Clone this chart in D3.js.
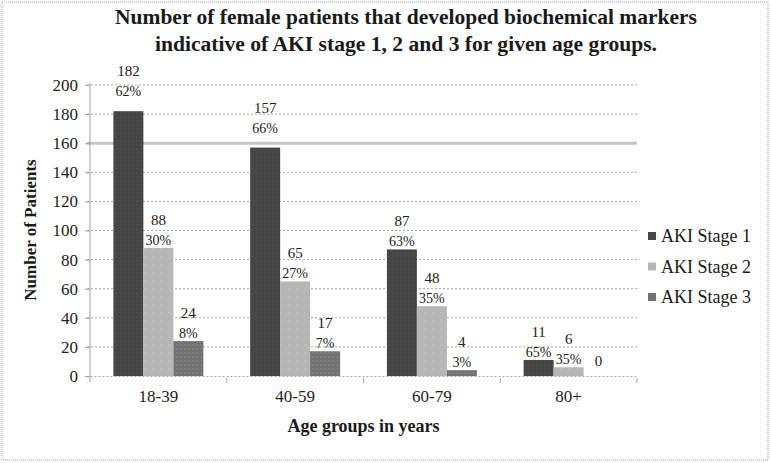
<!DOCTYPE html>
<html>
<head>
<meta charset="utf-8">
<script src="https://cdn.jsdelivr.net/npm/d3@7"></script>
<style>
body { margin: 0; background: #fff; }
svg text { font-family: "Liberation Serif", "Times New Roman", serif !important; }
</style>
</head>
<body>
<svg width="770" height="463"></svg>
<script>
var width = 770;
var height = 463;

var ageGroups = ['18-39', '40-59', '60-79', '80+'];
var stages = ['AKI Stage 1', 'AKI Stage 2', 'AKI Stage 3'];
var stage1 = [182, 157, 87, 11];
var stage2 = [88, 65, 48, 6];
var stage3 = [24, 17, 4, 0];
var pct1 = ['62%', '66%', '63%', '65%'];
var pct2 = ['30%', '27%', '35%', '35%'];
var pct3 = ['8%', '7%', '3%', ''];
var yTicks = [0, 20, 40, 60, 80, 100, 120, 140, 160, 180, 200];
var colors = ['#454545', '#b6b6b6', '#727272'];

var margin = {left: 90, right: 133, top: 85, bottom: 87}; // plot box
var svg = d3.select('svg');

// texture like the scanned fills
var defs = svg.append('defs');
colors.forEach(function(c, i) {
	var p = defs.append('pattern')
		.attr('id', 'fill' + i)
		.attr('width', i == 1 ? 8 : 4)
		.attr('height', i == 1 ? 8 : 4)
		.attr('patternUnits', 'userSpaceOnUse');
	p.append('rect').attr('width', 8).attr('height', 8).attr('fill', c);
	p.append('circle').attr('cx', 1).attr('cy', 1).attr('r', 0.8)
		.attr('fill', d3.color(c).brighter(i == 1 ? 0.25 : 0.5));
});

// outer dotted frame
svg.append('rect')
	.attr('x', 2).attr('y', 2)
	.attr('width', width - 4).attr('height', height - 5)
	.attr('fill', 'none')
	.attr('stroke', '#9a9a9a')
	.attr('stroke-dasharray', '1,1');

// title
var title = svg.append('text')
	.attr('text-anchor', 'middle')
	.style('font-weight', 'bold')
	.style('font-size', '21px')
	.attr('fill', '#1a1a1a');
title.append('tspan').attr('x', 406).attr('y', 24)
	.attr('textLength', 582).attr('lengthAdjust', 'spacingAndGlyphs')
	.text('Number of female patients that developed biochemical markers');
title.append('tspan').attr('x', 406).attr('y', 51)
	.attr('textLength', 502).attr('lengthAdjust', 'spacingAndGlyphs')
	.text('indicative of AKI stage 1, 2 and 3 for given age groups.');

var x0 = d3.scaleBand()
	.domain(ageGroups)
	.range([margin.left, width - margin.right]);

var x1 = d3.scaleBand()
	.domain(stages)
	.range([0, x0.bandwidth()])
	.paddingOuter(0.78);

var y = d3.scaleLinear()
	.domain([0, 200])
	.range([height - margin.bottom, margin.top]);

// gridlines
svg.append('g')
	.selectAll('line')
	.data(yTicks.slice(1))
	.enter()
	.append('line')
	.attr('x1', margin.left - 3)
	.attr('x2', width - margin.right)
	.attr('y1', function(d) {return y(d);})
	.attr('y2', function(d) {return y(d);})
	.attr('stroke', function(d) {return d == 160 ? '#c4c4c4' : '#a4a4a4';})
	.attr('stroke-width', function(d) {return d == 160 ? 3 : 1;})
	.attr('stroke-dasharray', function(d) {return d == 160 ? null : '2,2';});

// y axis
var yAxis = svg.append('g')
	.attr('transform', 'translate(' + margin.left + ',0)')
	.call(d3.axisLeft(y).tickValues(yTicks).tickSize(5).tickPadding(7));
yAxis.select('.domain').attr('stroke', '#a0a0a0').attr('d', 'M0,' + (margin.top - 2) + 'V' + (y(0) + 6));
yAxis.selectAll('.tick line').attr('stroke', '#a0a0a0');
yAxis.selectAll('text')
	.style('font-size', '17px')
	.attr('fill', '#222');

// x axis
var xAxis = svg.append('g')
	.attr('transform', 'translate(0,' + y(0) + ')')
	.call(d3.axisBottom(x0).tickSize(0).tickPadding(14));
xAxis.select('.domain').attr('stroke', '#a8a8a8').attr('stroke-dasharray', '2,2');
xAxis.selectAll('text')
	.style('font-size', '17px')
	.attr('fill', '#222');
// small ticks between groups
xAxis.selectAll('.sep')
	.data(ageGroups)
	.enter()
	.append('line')
	.attr('x1', function(d) {return x0(d) + x0.bandwidth();})
	.attr('x2', function(d) {return x0(d) + x0.bandwidth();})
	.attr('y1', 2).attr('y2', 7)
	.attr('stroke', '#b0b0b0');

// bars
var series = [stage1, stage2, stage3];
var pcts = [pct1, pct2, pct3];
var rows = [];
ageGroups.forEach(function(g, gi) {
	stages.forEach(function(s, si) {
		rows.push({group: g, stage: s, si: si, value: series[si][gi], pct: pcts[si][gi]});
	});
});

svg.append('g')
	.selectAll('rect')
	.data(rows)
	.enter()
	.append('rect')
	.attr('x', function(d) {return x0(d.group) + x1(d.stage);})
	.attr('y', function(d) {return y(d.value);})
	.attr('width', x1.bandwidth())
	.attr('height', function(d) {return y(0) - y(d.value);})
	.attr('fill', function(d) {return 'url(#fill' + d.si + ')';});

// value labels (tall stage 1 bars have their labels lifted a bit more)
function lift(d) {return d.si == 0 && d.value > 100 ? 12 : 0;}
var labels = svg.append('g')
	.attr('text-anchor', 'middle')
	.attr('fill', '#222');
labels.selectAll('.val')
	.data(rows)
	.enter()
	.append('text')
	.attr('x', function(d) {return x0(d.group) + x1(d.stage) + x1.bandwidth() / 2;})
	.attr('y', function(d) {return y(d.value) - (d.pct ? 23 : 10) - lift(d);})
	.style('font-size', '15px')
	.text(function(d) {return d.value;});
labels.selectAll('.pct')
	.data(rows.filter(function(d) {return d.pct;}))
	.enter()
	.append('text')
	.attr('x', function(d) {return x0(d.group) + x1(d.stage) + x1.bandwidth() / 2;})
	.attr('y', function(d) {return y(d.value) - 3 - lift(d);})
	.style('font-size', '14px')
	.text(function(d) {return d.pct;});

// axis titles
svg.append('text')
	.attr('x', (margin.left + width - margin.right) / 2)
	.attr('y', 432)
	.attr('text-anchor', 'middle')
	.style('font-weight', 'bold')
	.style('font-size', '18px')
	.attr('fill', '#1a1a1a')
	.text('Age groups in years');

svg.append('text')
	.attr('transform', 'translate(36,' + 230 + ') rotate(-90)')
	.attr('text-anchor', 'middle')
	.style('font-weight', 'bold')
	.style('font-size', '17px')
	.attr('fill', '#1a1a1a')
	.text('Number of Patients');

// legend
var legend = svg.append('g')
	.selectAll('g')
	.data(stages)
	.enter()
	.append('g')
	.attr('transform', function(d, i) {return 'translate(648,' + (236 + i * 30.5) + ')';});
legend.append('rect')
	.attr('x', 0).attr('y', -4)
	.attr('width', 8).attr('height', 8)
	.attr('fill', function(d, i) {return colors[i];});
legend.append('text')
	.attr('x', 13).attr('y', 6)
	.style('font-size', '18px')
	.attr('fill', '#1a1a1a')
	.text(function(d) {return d;});
</script>
</body>
</html>
